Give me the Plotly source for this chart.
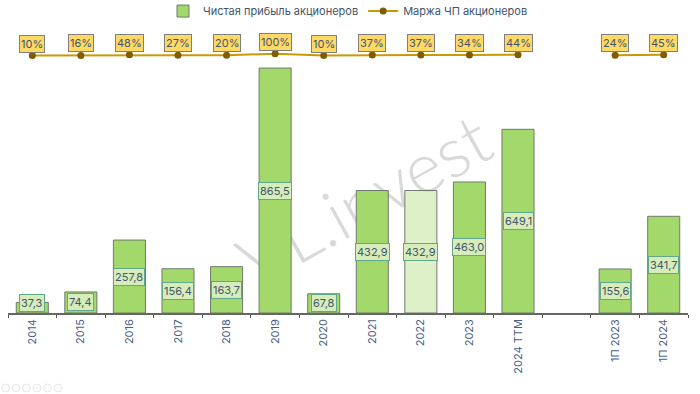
import plotly.graph_objects as go

categories = ["2014", "2015", "2016", "2017", "2018", "2019", "2020", "2021", "2022", "2023", "2024 TTM", " ", "1П 2023", "1П 2024"]
profit = [37.3, 74.4, 257.8, 156.4, 163.7, 865.5, 67.8, 432.9, 432.9, 463.0, 649.1, None, 155.6, 341.7]
margin = [10, 16, 48, 27, 20, 100, 10, 37, 37, 34, 44, None, 24, 45]
highlight = "2022"

GREEN = "#a3d96b"
LIGHT = "rgba(205,232,170,0.65)"
TXT = "#44546a"
FONT = "Inter"
MIN_LABEL_Y = 36

fig = go.Figure()
fig.add_bar(
    x=categories, y=profit, name="Чистая прибыль акционеров",
    marker=dict(color=[LIGHT if c == highlight else GREEN for c in categories],
                line=dict(color="#6e7a6e", width=1)),
    hoverinfo="skip",
)
fig.add_scatter(
    x=categories, y=margin, name="Маржа ЧП акционеров", yaxis="y2", mode="lines+markers",
    line=dict(color="#c99a06", width=2), marker=dict(color="#7f5c00", size=7),
    connectgaps=False, hoverinfo="skip",
)

anns = []
for i, (v, m) in enumerate(zip(profit, margin)):
    if v is None:
        continue
    anns.append(dict(x=i, y=max(v / 2, MIN_LABEL_Y), xref="x", yref="y", showarrow=False,
                     text=f"{v:.1f}".replace(".", ","), font=dict(family=FONT, size=11, color=TXT),
                     bgcolor="#d6edbb", bordercolor="#5fa88c", borderwidth=1, borderpad=1))
    anns.append(dict(x=i, y=m, xref="x", yref="y2", yshift=12, showarrow=False,
                     text=f"{m}%", font=dict(family=FONT, size=11, color=TXT),
                     bgcolor="#ffd966", bordercolor="#7f7f7f", borderwidth=1, borderpad=1))

shapes = [dict(type="rect", xref="paper", yref="paper", x0=0.122, x1=0.922, y0=0.023, y1=0.823,
               layer="below", line=dict(width=0), fillcolor="rgba(0,0,0,0)",
               label=dict(text="VL.invest", textangle=-29, textposition="middle center",
                          font=dict(family="Lato", size=70, color="#d9d9d9", weight=300)))]

# faint viewer toolbar at the bottom-left corner
for i in range(6):
    cx = 5.5 + i * 10.5
    shapes.append(dict(type="circle", xref="paper", yref="paper", layer="above",
                       x0=(cx - 8 - 4) / 680, x1=(cx - 8 + 4) / 680,
                       y0=-(388 + 4 - 313) / 273, y1=-(388 - 4 - 313) / 273,
                       line=dict(color="#e8e8e8", width=1), fillcolor="#fafafa"))

fig.update_layout(
    width=700, height=394, autosize=False,
    margin=dict(l=8, r=12, t=40, b=81, autoexpand=False),
    paper_bgcolor="white", plot_bgcolor="rgba(0,0,0,0)",
    bargap=0.34, showlegend=True,
    font=dict(family=FONT, color=TXT, size=11),
    legend=dict(orientation="h", x=0.5, xanchor="center", y=1.106, yanchor="middle",
                font=dict(family=FONT, size=11, color=TXT), itemwidth=30),
    xaxis=dict(type="category", categoryorder="array", categoryarray=categories, range=[-0.5, 13.5],
               tickson="boundaries", ticks="outside", ticklen=3, tickcolor="#555555", tickwidth=1,
               showline=True, linecolor="#666666", linewidth=1.5, tickangle=-90, showgrid=False,
               automargin=False, tickfont=dict(family=FONT, size=11, color="#4a5f8a")),
    yaxis=dict(range=[0, 964.7], visible=False, showgrid=False, zeroline=False),
    yaxis2=dict(range=[-12865, 785], overlaying="y", visible=False, showgrid=False, zeroline=False),
    annotations=anns, shapes=shapes,
)
fig.write_html("out.html", post_script="document.body.style.margin='0';",
               config=dict(displayModeBar=False))
